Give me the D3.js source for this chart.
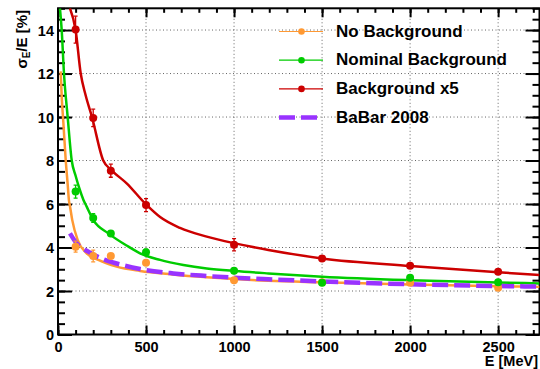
<!DOCTYPE html>
<html><head><meta charset="utf-8">
<script src="https://cdn.jsdelivr.net/npm/d3@7"></script>
<style>
html,body{margin:0;padding:0;background:#fff;}
svg{display:block;font-family:"Liberation Sans",Arial,Helvetica,sans-serif;font-weight:bold;}
</style></head>
<body>
<svg id="chart" width="540" height="369"></svg>
<script>
// ---- data ----
const energies = [100, 200, 300, 500, 1000, 1500, 2000, 2500];
const noBkg      = [4.04, 3.61, 3.61, 3.30, 2.50, 2.40, 2.38, 2.15];
const noBkgErr   = [0.25, 0.27, 0.10, 0.10, 0.08, 0.06, 0.06, 0.06];
const nomBkg     = [6.57, 5.36, 4.65, 3.78, 2.93, 2.38, 2.61, 2.40];
const nomBkgErr  = [0.30, 0.20, 0.12, 0.15, 0.08, 0.06, 0.06, 0.06];
const bkg5       = [14.02, 9.96, 7.53, 5.95, 4.13, 3.50, 3.16, 2.88];
const bkg5Err    = [0.62, 0.40, 0.30, 0.30, 0.28, 0.08, 0.08, 0.10];

// fitted curves
const noBkgFitE  = [15, 22, 30, 44, 55, 62, 68, 81, 112, 163, 229, 333, 466, 650, 845, 1195, 1500, 2000, 2500, 2735];
const noBkgFitV  = [12.1, 10.8, 9.8, 8.0, 6.9, 6.18, 5.9, 5.26, 4.34, 3.73, 3.43, 3.12, 2.92, 2.76, 2.63, 2.47, 2.40, 2.30, 2.22, 2.19];
const nomFitE    = [11, 21, 34, 55, 78, 100, 120, 144, 163, 201, 286, 400, 466, 580, 712, 845, 1006, 1195, 1500, 2000, 2500, 2735];
const nomFitV    = [15, 14, 12, 10, 8, 7.3, 6.75, 6.2, 5.88, 5.26, 4.65, 4.04, 3.73, 3.43, 3.2, 3.04, 2.92, 2.81, 2.66, 2.50, 2.39, 2.35];
const b5FitE     = [68, 100, 129, 157, 193, 257, 305, 390, 500, 580, 693, 845, 1006, 1195, 1500, 2000, 2500, 2735];
const b5FitV     = [15, 14, 12, 11, 10, 8, 7.55, 6.95, 5.98, 5.4, 4.9, 4.5, 4.19, 3.89, 3.50, 3.15, 2.86, 2.74];
const babarE     = [68, 106, 172, 267, 362, 466, 655, 845, 1195, 1500, 2000, 2500, 2735];
const babarV     = [4.65, 4.19, 3.81, 3.43, 3.2, 3.01, 2.81, 2.69, 2.54, 2.44, 2.31, 2.23, 2.2];

const legendLabels = ["No Background", "Nominal Background", "Background x5", "BaBar 2008"];
const xMajorTicks = [0, 500, 1000, 1500, 2000, 2500];
const yMajorTicks = [0, 2, 4, 6, 8, 10, 12, 14];

// ---- layout ----
const svg = d3.select("#chart");
const L = 58, R = 539.5, T = 8.3, B = 334.5;
const x = d3.scaleLinear().domain([0, 2735]).range([L, R]);
const y = d3.scaleLinear().domain([0, 15]).range([B, T]);

const cOrange = "#ff9933", cGreen = "#00cc00", cRed = "#cc0000", cPurple = "#9933ff";

svg.append("defs").append("clipPath").attr("id", "clip")
  .append("rect").attr("x", L).attr("y", T).attr("width", R - L).attr("height", B - T);

// grid
const grid = svg.append("g").attr("stroke", "#666").attr("stroke-width", 1).attr("stroke-dasharray", "1,2.5");
xMajorTicks.filter(d => d > 0).forEach(d => {
  grid.append("line").attr("x1", x(d)).attr("x2", x(d)).attr("y1", T).attr("y2", B);
});
yMajorTicks.filter(d => d > 0).forEach(d => {
  grid.append("line").attr("x1", L).attr("x2", R).attr("y1", y(d)).attr("y2", y(d));
});

// axes (ticks drawn inward, ROOT style)
const xMinor = d3.range(0, 2736, 100);
const yMinor = d3.range(0, 15.01, 0.5);
function styleAxis(g) {
  g.select(".domain").remove();
  g.selectAll(".tick line").attr("stroke", "#000").attr("stroke-width", 2);
}
svg.append("g").attr("transform", `translate(0,${B})`)
  .call(d3.axisBottom(x).tickValues(xMinor).tickSize(-4.5).tickFormat(""))
  .call(styleAxis);
svg.append("g").attr("transform", `translate(0,${B})`)
  .call(d3.axisBottom(x).tickValues(xMajorTicks).tickSize(-9).tickPadding(0).tickFormat(d3.format("d")))
  .call(styleAxis)
  .call(g => g.selectAll(".tick text").attr("y", 17).attr("dy", 0).attr("font-size", "14.5px")
      .attr("font-family", "Liberation Sans, Arial, sans-serif").attr("font-weight", "bold").attr("fill", "#000"));
svg.append("g").attr("transform", `translate(0,${T})`)
  .call(d3.axisTop(x).tickValues(xMinor).tickSize(-4.5).tickFormat(""))
  .call(styleAxis);
svg.append("g").attr("transform", `translate(0,${T})`)
  .call(d3.axisTop(x).tickValues(xMajorTicks).tickSize(-9).tickFormat(""))
  .call(styleAxis);
svg.append("g").attr("transform", `translate(${L},0)`)
  .call(d3.axisLeft(y).tickValues(yMinor).tickSize(-7).tickFormat(""))
  .call(styleAxis);
svg.append("g").attr("transform", `translate(${L},0)`)
  .call(d3.axisLeft(y).tickValues(yMajorTicks).tickSize(-14).tickPadding(0).tickFormat(d3.format("d")))
  .call(styleAxis)
  .call(g => g.selectAll(".tick text").attr("x", -4).attr("dy", "0.36em").attr("font-size", "14.5px")
      .attr("font-family", "Liberation Sans, Arial, sans-serif").attr("font-weight", "bold").attr("fill", "#000"));
svg.append("g").attr("transform", `translate(${R},0)`)
  .call(d3.axisRight(y).tickValues(yMinor).tickSize(-7).tickFormat(""))
  .call(styleAxis);
svg.append("g").attr("transform", `translate(${R},0)`)
  .call(d3.axisRight(y).tickValues(yMajorTicks).tickSize(-14).tickFormat(""))
  .call(styleAxis);

// frame
svg.append("rect").attr("x", L).attr("y", T).attr("width", R - L).attr("height", B - T)
  .attr("fill", "none").attr("stroke", "#000").attr("stroke-width", 2);

// curves
const plot = svg.append("g").attr("clip-path", "url(#clip)");
const line = d3.line().x(d => x(d[0])).y(d => y(d[1])).curve(d3.curveMonotoneX);
function curve(E, V, color, w, dash) {
  const p = plot.append("path").datum(E.map((e, i) => [e, V[i]]))
    .attr("d", line).attr("fill", "none").attr("stroke", color).attr("stroke-width", w)
    .attr("stroke-linejoin", "round");
  if (dash) p.attr("stroke-dasharray", dash);
}
curve(noBkgFitE, noBkgFitV, cOrange, 2.5);
curve(nomFitE, nomFitV, cGreen, 2.5);
curve(b5FitE, b5FitV, cRed, 2.5);
curve(babarE, babarV, cPurple, 4.5, "16,6");

// points with error bars
function points(vals, errs, color) {
  const g = plot.append("g");
  energies.forEach((e, i) => {
    const cx = x(e), y1 = y(vals[i] + errs[i]), y2 = y(vals[i] - errs[i]);
    g.append("line").attr("x1", cx).attr("x2", cx).attr("y1", y1).attr("y2", y2).attr("stroke", color).attr("stroke-width", 1.3);
    g.append("line").attr("x1", cx - 2).attr("x2", cx + 2).attr("y1", y1).attr("y2", y1).attr("stroke", color).attr("stroke-width", 1.3);
    g.append("line").attr("x1", cx - 2).attr("x2", cx + 2).attr("y1", y2).attr("y2", y2).attr("stroke", color).attr("stroke-width", 1.3);
    g.append("circle").attr("cx", cx).attr("cy", y(vals[i])).attr("r", 4).attr("fill", color);
  });
}
points(noBkg, noBkgErr, cOrange);
points(nomBkg, nomBkgErr, cGreen);
points(bkg5, bkg5Err, cRed);

// legend
const legColors = [cOrange, cGreen, cRed, cPurple];
const leg = svg.append("g");
legendLabels.forEach((lab, i) => {
  const cy = 31.5 + i * 28.7;
  if (i < 3) {
    leg.append("line").attr("x1", 279).attr("x2", 323).attr("y1", cy).attr("y2", cy)
      .attr("stroke", legColors[i]).attr("stroke-width", 1.2);
    leg.append("circle").attr("cx", 301.5).attr("cy", cy).attr("r", 3.3).attr("fill", legColors[i]);
  } else {
    leg.append("line").attr("x1", 279).attr("x2", 323).attr("y1", cy).attr("y2", cy)
      .attr("stroke", legColors[i]).attr("stroke-width", 4.5).attr("stroke-dasharray", "16,6");
  }
  leg.append("text").attr("x", 336).attr("y", cy + 5).attr("font-size", "17px").attr("fill", "#000").text(lab);
});

// axis titles
svg.append("text").attr("x", 538).attr("y", 366).attr("text-anchor", "end")
  .attr("font-size", "14.5px").attr("fill", "#000").text("E [MeV]");
const yt = svg.append("text").attr("transform", "translate(27,10) rotate(-90)")
  .attr("text-anchor", "end").attr("font-size", "15px").attr("fill", "#000");
yt.append("tspan").text("σ");
yt.append("tspan").attr("font-size", "10px").attr("dy", 3).text("E");
yt.append("tspan").attr("dy", -3).text("/E [%]");
</script>
</body></html>
